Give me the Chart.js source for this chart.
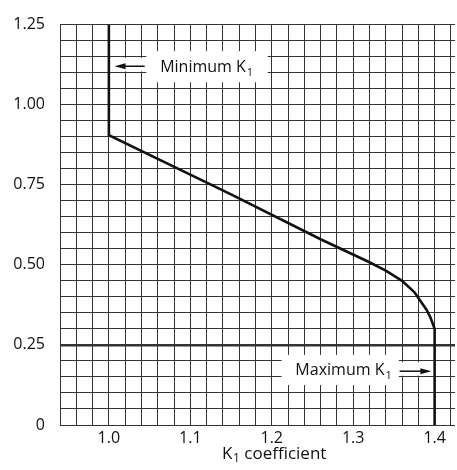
<!DOCTYPE html>
<html>
<head>
<meta charset="utf-8">
<script src="https://cdn.jsdelivr.net/npm/chart.js@4"></script>
<style>
  html, body { margin: 0; padding: 0; background: #fff; }
  #wrap { width: 457px; height: 470px; position: relative; }
</style>
</head>
<body>
<div id="wrap"><canvas id="k1Chart"></canvas></div>
<script>
// ─── data ───
const k1Values = [1.0, 1.0, 1.15, 1.26, 1.32, 1.34, 1.36, 1.375, 1.39, 1.395, 1.40, 1.40];
const yValues = [1.25, 0.905, 0.72, 0.58, 0.508, 0.482, 0.45, 0.415, 0.36, 0.335, 0.30, 0];
const xTickLabels = ['1.0', '1.1', '1.2', '1.3', '1.4'];
const yTickLabels = ['0', '0.25', '0.50', '0.75', '1.00', '1.25'];
const minLabel = 'Minimum K';
const maxLabel = 'Maximum K';
const axisTitle = ['K', '1', ' coefficient'];

const FONT = '"Open Sans", "Noto Sans", sans-serif';
const GRID = '#333';

// grid every 0.02 along x, every 0.05 along y
const xGrid = [];
for (let i = 47; i <= 71; i++) xGrid.push(Math.round(i * 2) / 100);
const yGrid = [];
for (let i = 0; i <= 25; i++) yGrid.push(Math.round(i * 5) / 100);

const points = k1Values.map((x, i) => ({ x, y: yValues[i] }));

function labelFor(list, v) {
  const hit = list.find(t => Math.abs(parseFloat(t) - v) < 1e-6);
  return hit !== undefined ? hit : '';
}

// white box in data units
function whiteBox(ctx, x, y, x0, x1, y0, y1) {
  const px0 = x.getPixelForValue(x0), px1 = x.getPixelForValue(x1);
  const py0 = y.getPixelForValue(y1), py1 = y.getPixelForValue(y0);
  ctx.fillRect(px0, py0, px1 - px0, py1 - py0);
}

function arrowHead(ctx, tipX, yy, dir) {
  ctx.beginPath();
  ctx.moveTo(tipX, yy);
  ctx.lineTo(tipX - dir * 11, yy - 3);
  ctx.lineTo(tipX - dir * 11, yy + 3);
  ctx.closePath();
  ctx.fill();
}

// annotations: white boxes, labels and arrows
const notes = {
  id: 'notes',
  afterDatasetsDraw(chart) {
    const { ctx, scales: { x, y } } = chart;
    ctx.save();
    ctx.fillStyle = '#fff';
    whiteBox(ctx, x, y, 1.046, 1.195, 1.07, 1.167);
    whiteBox(ctx, x, y, 1.006, 1.046, 1.104, 1.146);
    whiteBox(ctx, x, y, 1.212, 1.356, 0.125, 0.219);
    whiteBox(ctx, x, y, 1.356, 1.394, 0.154, 0.196);

    ctx.fillStyle = '#111';
    ctx.strokeStyle = '#111';
    ctx.textBaseline = 'alphabetic';
    ctx.textAlign = 'left';
    ctx.lineWidth = 1.5;

    // Minimum K1
    let ty = y.getPixelForValue(1.119);
    let tx = x.getPixelForValue(1.063);
    ctx.font = '16px ' + FONT;
    ctx.fillText(minLabel, tx, ty + 5);
    let w = ctx.measureText(minLabel).width;
    ctx.font = '11px ' + FONT;
    ctx.fillText('1', tx + w + 1, ty + 9);
    const ay = y.getPixelForValue(1.12);
    ctx.beginPath();
    ctx.moveTo(x.getPixelForValue(1.044), ay);
    ctx.lineTo(x.getPixelForValue(1.015), ay);
    ctx.stroke();
    arrowHead(ctx, x.getPixelForValue(1.007), ay, -1);

    // Maximum K1
    ty = y.getPixelForValue(0.173);
    tx = x.getPixelForValue(1.229);
    ctx.font = '16px ' + FONT;
    ctx.fillText(maxLabel, tx, ty + 5);
    w = ctx.measureText(maxLabel).width;
    ctx.font = '11px ' + FONT;
    ctx.fillText('1', tx + w + 1, ty + 9);
    const by = y.getPixelForValue(0.168);
    ctx.beginPath();
    ctx.moveTo(x.getPixelForValue(1.357), by);
    ctx.lineTo(x.getPixelForValue(1.385), by);
    ctx.stroke();
    arrowHead(ctx, x.getPixelForValue(1.396), by, 1);

    // x axis title
    ctx.font = '17px ' + FONT;
    const t0 = ctx.measureText(axisTitle[0]).width;
    const t2 = ctx.measureText(axisTitle[2]).width;
    ctx.font = '12px ' + FONT;
    const t1 = ctx.measureText(axisTitle[1]).width;
    const sx = 274 - (t0 + t1 + t2) / 2;
    const base = 459;
    ctx.font = '17px ' + FONT;
    ctx.fillText(axisTitle[0], sx, base);
    ctx.font = '12px ' + FONT;
    ctx.fillText(axisTitle[1], sx + t0 + 0.5, base + 3);
    ctx.font = '17px ' + FONT;
    ctx.fillText(axisTitle[2], sx + t0 + t1 + 0.5, base);
    ctx.restore();
  }
};

new Chart(document.getElementById('k1Chart'), {
  type: 'scatter',
  data: {
    datasets: [{
      data: points,
      showLine: true,
      borderColor: '#111',
      borderWidth: 2.6,
      pointRadius: 0,
      tension: 0,
      fill: false
    }]
  },
  options: {
    responsive: true,
    maintainAspectRatio: false,
    animation: false,
    layout: { padding: { top: 15, right: 2, left: 0, bottom: 0 } },
    plugins: { legend: { display: false }, tooltip: { enabled: false } },
    scales: {
      x: {
        type: 'linear',
        min: 0.94,
        max: 1.425,
        afterBuildTicks: axis => { axis.ticks = xGrid.map(v => ({ value: v })); },
        afterFit: axis => { axis.height = 45; },
        grid: { color: GRID, lineWidth: 1, drawTicks: false },
        border: { display: false },
        ticks: {
          autoSkip: false,
          maxRotation: 0,
          padding: 4,
          color: '#111',
          font: { family: FONT, size: 16 },
          callback: v => labelFor(xTickLabels, v)
        }
      },
      y: {
        type: 'linear',
        min: 0,
        max: 1.25,
        afterBuildTicks: axis => { axis.ticks = yGrid.map(v => ({ value: v })); },
        afterFit: axis => { axis.width = 60; },
        grid: {
          color: GRID,
          drawTicks: false,
          lineWidth: c => (c.tick && Math.abs(c.tick.value - 0.25) < 1e-6 ? 2.5 : 1)
        },
        border: { display: false },
        ticks: {
          autoSkip: false,
          padding: 15,
          color: '#111',
          font: { family: FONT, size: 16 },
          callback: v => labelFor(yTickLabels, v)
        }
      }
    }
  },
  plugins: [notes]
});
</script>
</body>
</html>
